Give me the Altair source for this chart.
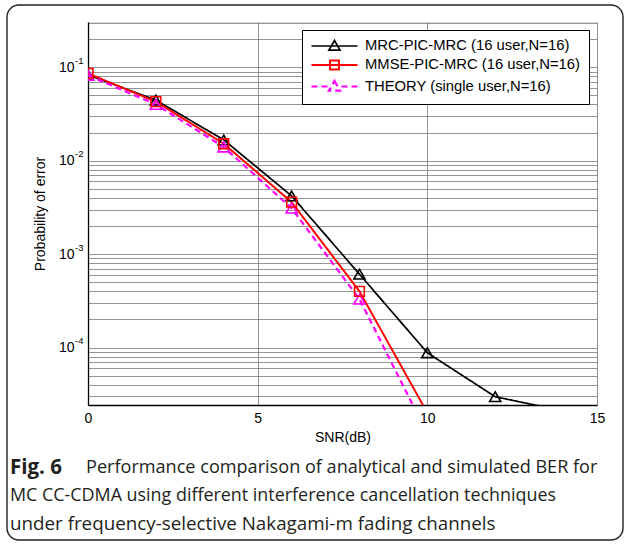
import altair as alt
import pandas as pd

# ---------------- data ----------------
series = ["MRC-PIC-MRC (16 user,N=16)", "MMSE-PIC-MRC (16 user,N=16)", "THEORY (single user,N=16)"]

snr_mrc = [0, 2, 4, 6, 8, 10, 12, 14]
ber_mrc = [0.083, 0.0445, 0.0167, 0.0042, 6.1e-4, 8.8e-5, 2.98e-5, 2.1e-5]

snr_mmse = [0, 2, 4, 6, 8, 10]
ber_mmse = [0.086, 0.0428, 0.0152, 0.0036, 4.0e-4, 2.0e-5]

snr_theory = [0, 2, 4, 6, 8, 10]
ber_theory = [0.082, 0.0400, 0.0140, 0.0031, 3.3e-4, 1.2e-5]

x_ticks = [0, 5, 10, 15]
y_decades = [1e-4, 1e-3, 1e-2, 1e-1]
y_minor_mult = [1, 2, 3, 4, 5, 6, 7, 8, 9]
y_domain = [2.43e-5, 0.305]
x_domain = [0, 15]

caption_bold = "Fig. 6"
caption_line1 = "Performance comparison of analytical and simulated BER for"
caption_line2 = "MC CC-CDMA using different interference cancellation techniques"
caption_line3 = "under frequency-selective Nakagami-m fading channels"

# ---------------- styles ----------------
colors = ["#000000", "#ff0000", "#ff00ff"]
dashes = [[1, 0], [1, 0], [6, 4]]
widths = [1.7, 2.2, 2.0]
legend_paths = [
    "M-3.29,0H3.29M0,-0.78L0.8,0.6L-0.8,0.6Z",
    "M-3.29,0H3.29M-0.64,-0.64H0.64V0.64H-0.64Z",
    "M-3.29,0H-2.43M-1.86,0H-1.0M1.0,0H1.86M2.43,0H3.29M0,-0.78L0.8,0.6L-0.8,0.6Z",
]
FONT = "Liberation Sans"
CAP_FONT = "Open Sans"

rows = []
for name, xs, ys in [(series[0], snr_mrc, ber_mrc), (series[1], snr_mmse, ber_mmse), (series[2], snr_theory, ber_theory)]:
    for xv, yv in zip(xs, ys):
        rows.append({"series": name, "snr": xv, "ber": yv})
df = pd.DataFrame(rows)

y_grid = [m * d for d in [1e-5] + y_decades for m in y_minor_mult if y_domain[0] <= m * d <= y_domain[1]]

W, H = 509, 383

xscale = alt.Scale(domain=x_domain, nice=False)
yscale = alt.Scale(type="log", domain=y_domain, nice=False)
cscale = alt.Scale(domain=series, range=colors)

is_pow = "abs(log(datum.value)/LN10 - round(log(datum.value)/LN10)) < 0.001"

x_enc = alt.X("snr:Q", scale=xscale, axis=alt.Axis(
    values=x_ticks, grid=True, gridColor="#7a7a7a", gridWidth=0.8, ticks=False,
    domainColor="black", domainWidth=1.3, labelFlush=False, labelFont=FONT, labelFontSize=14,
    labelColor="black", labelPadding=6, title="SNR(dB)", titleFont=FONT, titleFontSize=14,
    titleFontWeight="normal", titleColor="black", titleY=32, titleBaseline="middle"))

y_main = alt.Y("ber:Q", scale=yscale, axis=alt.Axis(
    orient="left", values=y_grid, grid=True, gridColor="#7a7a7a", gridWidth=0.8, ticks=False,
    domainColor="black", domainWidth=1.3, labelExpr=f"{is_pow} ? '10' : ''", labelOverlap=False,
    labelFont=FONT, labelFontSize=14, labelColor="black", labelPadding=14,
    title="Probability of error", titleFont=FONT, titleFontSize=14, titleFontWeight="normal",
    titleColor="black", titleX=-48, titleY=H / 2, titleBaseline="middle", titleAlign="center"))

y_exp = alt.Y("ber:Q", scale=yscale, axis=alt.Axis(
    orient="left", values=y_decades, grid=False, ticks=False, domain=False,
    labelExpr="'' + round(log(datum.value)/LN10)", labelOverlap=False,
    labelFont=FONT, labelFontSize=9.5, labelColor="black", labelPadding=5, labelOffset=-7,
    title=None))

base = alt.Chart(df)

legend_layer = base.transform_filter("false").mark_point(filled=False, opacity=1).encode(
    color=alt.Color("series:N", scale=cscale, legend=alt.Legend(
        orient="none", legendX=214, legendY=8, title=None, labelFont=FONT, labelFontSize=14.8,
        labelColor="black", labelOffset=22, symbolOffset=16, labelLimit=400, padding=8,
        rowPadding=2, strokeColor="black", fillColor="white", symbolSize=196,
        symbolStrokeWidth=1.6, symbolOpacity=1)),
    shape=alt.Shape("series:N", scale=alt.Scale(domain=series, range=legend_paths)),
)

lines = base.mark_line(clip=True).encode(
    x=x_enc, y=y_main,
    color=alt.Color("series:N", scale=cscale, legend=None),
    strokeDash=alt.StrokeDash("series:N", scale=alt.Scale(domain=series, range=dashes), legend=None),
    strokeWidth=alt.StrokeWidth("series:O", scale=alt.Scale(domain=series, range=widths), legend=None),
)

triangles = base.transform_filter(
    alt.FieldOneOfPredicate(field="series", oneOf=[series[0], series[2]])
).mark_point(shape="triangle-up", filled=False, size=125, strokeWidth=1.6, clip=True, opacity=1).encode(
    x=x_enc, y=y_exp, color=alt.Color("series:N", scale=cscale, legend=None))

squares = base.transform_filter(
    alt.FieldEqualPredicate(field="series", equal=series[1])
).mark_point(shape="square", filled=False, size=95, strokeWidth=1.6, clip=True, opacity=1).encode(
    x=x_enc, y=alt.Y("ber:Q", scale=yscale, axis=None),
    color=alt.Color("series:N", scale=cscale, legend=None))

one = pd.DataFrame({"k": [0]})
frame = alt.Chart(one).mark_rect(fill="transparent", stroke="#222222", strokeWidth=1.4, cornerRadius=12).encode(
    x=alt.value(-81), x2=alt.value(535), y=alt.value(-17), y2=alt.value(518))


def cap(text, xpos, ypos, size, bold=False):
    return alt.Chart(pd.DataFrame({"t": [text]})).mark_text(
        align="left", baseline="middle", font=CAP_FONT, fontSize=size,
        fontWeight="bold" if bold else "normal", color="#231f20").encode(
        text="t:N", x=alt.value(xpos), y=alt.value(ypos))


chart = alt.layer(
    legend_layer, frame, lines, triangles, squares,
    cap(caption_bold, -78, 446, 20.5, bold=True),
    cap(caption_line1, -2, 446, 18.1),
    cap(caption_line2, -78, 474, 17.9),
    cap(caption_line3, -78, 502, 18.8),
).resolve_axis(y="independent").properties(
    width=W, height=H,
    autosize=alt.AutoSizeParams(type="none"),
    padding={"left": 88, "top": 22, "right": 30, "bottom": 140},
).configure_view(stroke="black", strokeWidth=1.3).configure(background="white")

chart.save("out.html", embed_options={"renderer": "svg", "actions": False})
